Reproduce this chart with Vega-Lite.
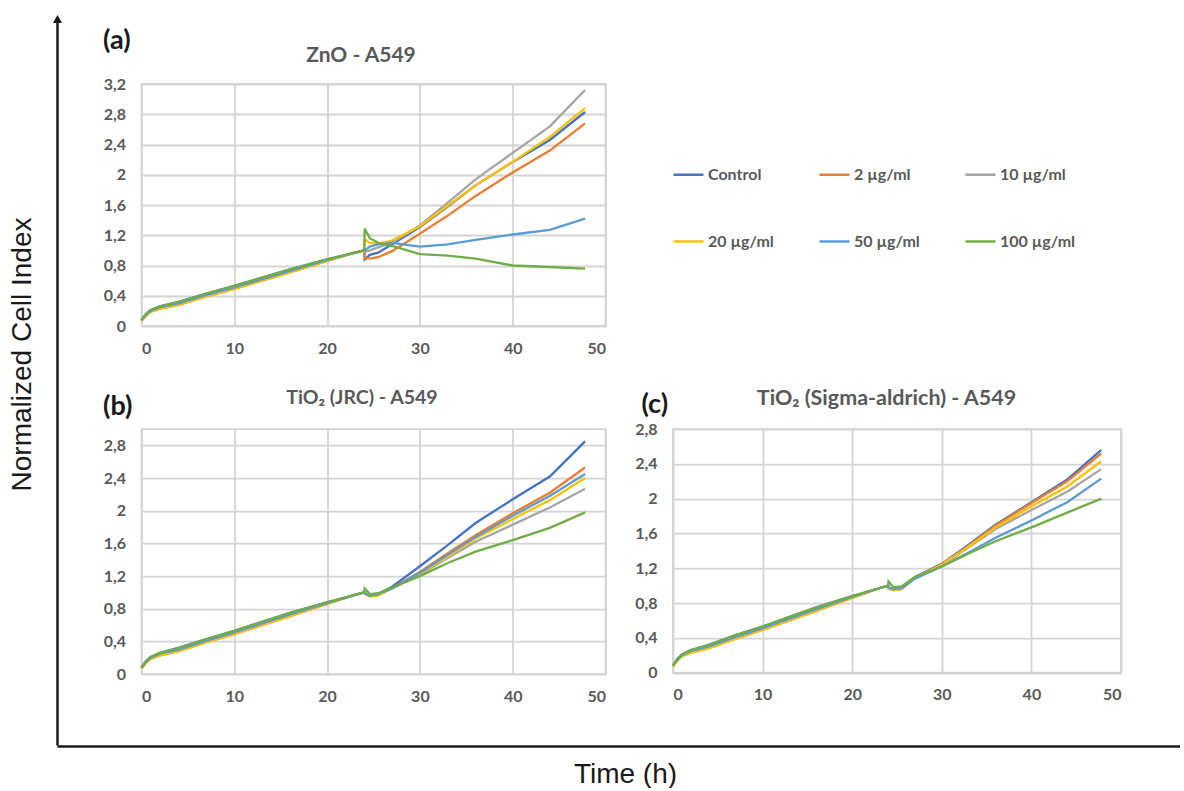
{
"$schema": "https://vega.github.io/schema/vega-lite/v6.json",
"padding": {"left": 4, "top": 15, "right": 0, "bottom": 0},
"config": {
  "view": {"stroke": "#d4d4d4", "strokeWidth": 1.8},
  "axis": {"labelFont": "Lato", "labelFontWeight": "bold", "labelFontSize": 16, "labelColor": "#595959", "ticks": false, "domain": false, "gridColor": "#d4d4d4", "gridWidth": 1.8, "titleFont": "Lato"}
},
"data": {"values": [
{"p":"a","s":"Control","t":0,"v":0.08},{"p":"a","s":"Control","t":0.5,"v":0.16},{"p":"a","s":"Control","t":1,"v":0.21},{"p":"a","s":"Control","t":2,"v":0.26},{"p":"a","s":"Control","t":4,"v":0.32},{"p":"a","s":"Control","t":7,"v":0.43},{"p":"a","s":"Control","t":10,"v":0.53},{"p":"a","s":"Control","t":13,"v":0.64},{"p":"a","s":"Control","t":16,"v":0.75},{"p":"a","s":"Control","t":20,"v":0.88},{"p":"a","s":"Control","t":23,"v":0.97},{"p":"a","s":"Control","t":24,"v":1.0},{"p":"a","s":"Control","t":24.05,"v":0.88},{"p":"a","s":"Control","t":24.6,"v":0.94},{"p":"a","s":"Control","t":25.5,"v":0.97},{"p":"a","s":"Control","t":27,"v":1.08},{"p":"a","s":"Control","t":30,"v":1.31},{"p":"a","s":"Control","t":33,"v":1.58},{"p":"a","s":"Control","t":36,"v":1.86},{"p":"a","s":"Control","t":40,"v":2.17},{"p":"a","s":"Control","t":44,"v":2.46},{"p":"a","s":"Control","t":47.8,"v":2.83},
{"p":"a","s":"2 µg/ml","t":0,"v":0.07},{"p":"a","s":"2 µg/ml","t":0.5,"v":0.14},{"p":"a","s":"2 µg/ml","t":1,"v":0.19},{"p":"a","s":"2 µg/ml","t":2,"v":0.23},{"p":"a","s":"2 µg/ml","t":4,"v":0.28},{"p":"a","s":"2 µg/ml","t":7,"v":0.39},{"p":"a","s":"2 µg/ml","t":10,"v":0.49},{"p":"a","s":"2 µg/ml","t":13,"v":0.6},{"p":"a","s":"2 µg/ml","t":16,"v":0.71},{"p":"a","s":"2 µg/ml","t":20,"v":0.86},{"p":"a","s":"2 µg/ml","t":23,"v":0.97},{"p":"a","s":"2 µg/ml","t":24,"v":1.0},{"p":"a","s":"2 µg/ml","t":24.05,"v":0.9},{"p":"a","s":"2 µg/ml","t":24.6,"v":0.89},{"p":"a","s":"2 µg/ml","t":25.5,"v":0.91},{"p":"a","s":"2 µg/ml","t":27,"v":0.99},{"p":"a","s":"2 µg/ml","t":30,"v":1.22},{"p":"a","s":"2 µg/ml","t":33,"v":1.46},{"p":"a","s":"2 µg/ml","t":36,"v":1.72},{"p":"a","s":"2 µg/ml","t":40,"v":2.03},{"p":"a","s":"2 µg/ml","t":44,"v":2.32},{"p":"a","s":"2 µg/ml","t":47.8,"v":2.68},
{"p":"a","s":"10 µg/ml","t":0,"v":0.08},{"p":"a","s":"10 µg/ml","t":0.5,"v":0.15},{"p":"a","s":"10 µg/ml","t":1,"v":0.2},{"p":"a","s":"10 µg/ml","t":2,"v":0.25},{"p":"a","s":"10 µg/ml","t":4,"v":0.3},{"p":"a","s":"10 µg/ml","t":7,"v":0.41},{"p":"a","s":"10 µg/ml","t":10,"v":0.51},{"p":"a","s":"10 µg/ml","t":13,"v":0.62},{"p":"a","s":"10 µg/ml","t":16,"v":0.73},{"p":"a","s":"10 µg/ml","t":20,"v":0.87},{"p":"a","s":"10 µg/ml","t":23,"v":0.97},{"p":"a","s":"10 µg/ml","t":24,"v":1.0},{"p":"a","s":"10 µg/ml","t":24.05,"v":0.98},{"p":"a","s":"10 µg/ml","t":24.6,"v":1.0},{"p":"a","s":"10 µg/ml","t":25.5,"v":1.04},{"p":"a","s":"10 µg/ml","t":27,"v":1.1},{"p":"a","s":"10 µg/ml","t":30,"v":1.33},{"p":"a","s":"10 µg/ml","t":33,"v":1.63},{"p":"a","s":"10 µg/ml","t":36,"v":1.94},{"p":"a","s":"10 µg/ml","t":40,"v":2.29},{"p":"a","s":"10 µg/ml","t":44,"v":2.64},{"p":"a","s":"10 µg/ml","t":47.8,"v":3.12},
{"p":"a","s":"20 µg/ml","t":0,"v":0.07},{"p":"a","s":"20 µg/ml","t":0.5,"v":0.14},{"p":"a","s":"20 µg/ml","t":1,"v":0.19},{"p":"a","s":"20 µg/ml","t":2,"v":0.23},{"p":"a","s":"20 µg/ml","t":4,"v":0.28},{"p":"a","s":"20 µg/ml","t":7,"v":0.39},{"p":"a","s":"20 µg/ml","t":10,"v":0.49},{"p":"a","s":"20 µg/ml","t":13,"v":0.6},{"p":"a","s":"20 µg/ml","t":16,"v":0.71},{"p":"a","s":"20 µg/ml","t":20,"v":0.86},{"p":"a","s":"20 µg/ml","t":23,"v":0.97},{"p":"a","s":"20 µg/ml","t":24,"v":1.0},{"p":"a","s":"20 µg/ml","t":24.05,"v":1.15},{"p":"a","s":"20 µg/ml","t":24.6,"v":1.1},{"p":"a","s":"20 µg/ml","t":25.5,"v":1.09},{"p":"a","s":"20 µg/ml","t":27,"v":1.13},{"p":"a","s":"20 µg/ml","t":30,"v":1.32},{"p":"a","s":"20 µg/ml","t":33,"v":1.59},{"p":"a","s":"20 µg/ml","t":36,"v":1.86},{"p":"a","s":"20 µg/ml","t":40,"v":2.17},{"p":"a","s":"20 µg/ml","t":44,"v":2.5},{"p":"a","s":"20 µg/ml","t":47.8,"v":2.88},
{"p":"a","s":"50 µg/ml","t":0,"v":0.08},{"p":"a","s":"50 µg/ml","t":0.5,"v":0.15},{"p":"a","s":"50 µg/ml","t":1,"v":0.2},{"p":"a","s":"50 µg/ml","t":2,"v":0.25},{"p":"a","s":"50 µg/ml","t":4,"v":0.3},{"p":"a","s":"50 µg/ml","t":7,"v":0.41},{"p":"a","s":"50 µg/ml","t":10,"v":0.51},{"p":"a","s":"50 µg/ml","t":13,"v":0.62},{"p":"a","s":"50 µg/ml","t":16,"v":0.73},{"p":"a","s":"50 µg/ml","t":20,"v":0.87},{"p":"a","s":"50 µg/ml","t":23,"v":0.97},{"p":"a","s":"50 µg/ml","t":24,"v":1.0},{"p":"a","s":"50 µg/ml","t":24.05,"v":1.0},{"p":"a","s":"50 µg/ml","t":24.6,"v":1.05},{"p":"a","s":"50 µg/ml","t":25.5,"v":1.08},{"p":"a","s":"50 µg/ml","t":27,"v":1.1},{"p":"a","s":"50 µg/ml","t":30,"v":1.05},{"p":"a","s":"50 µg/ml","t":33,"v":1.08},{"p":"a","s":"50 µg/ml","t":36,"v":1.14},{"p":"a","s":"50 µg/ml","t":40,"v":1.21},{"p":"a","s":"50 µg/ml","t":44,"v":1.27},{"p":"a","s":"50 µg/ml","t":47.8,"v":1.42},
{"p":"a","s":"100 µg/ml","t":0,"v":0.08},{"p":"a","s":"100 µg/ml","t":0.5,"v":0.16},{"p":"a","s":"100 µg/ml","t":1,"v":0.21},{"p":"a","s":"100 µg/ml","t":2,"v":0.26},{"p":"a","s":"100 µg/ml","t":4,"v":0.32},{"p":"a","s":"100 µg/ml","t":7,"v":0.43},{"p":"a","s":"100 µg/ml","t":10,"v":0.53},{"p":"a","s":"100 µg/ml","t":13,"v":0.64},{"p":"a","s":"100 µg/ml","t":16,"v":0.75},{"p":"a","s":"100 µg/ml","t":20,"v":0.88},{"p":"a","s":"100 µg/ml","t":23,"v":0.97},{"p":"a","s":"100 µg/ml","t":24,"v":1.0},{"p":"a","s":"100 µg/ml","t":24.05,"v":1.29},{"p":"a","s":"100 µg/ml","t":24.6,"v":1.16},{"p":"a","s":"100 µg/ml","t":25.5,"v":1.1},{"p":"a","s":"100 µg/ml","t":27,"v":1.06},{"p":"a","s":"100 µg/ml","t":30,"v":0.95},{"p":"a","s":"100 µg/ml","t":33,"v":0.93},{"p":"a","s":"100 µg/ml","t":36,"v":0.89},{"p":"a","s":"100 µg/ml","t":40,"v":0.8},{"p":"a","s":"100 µg/ml","t":44,"v":0.78},{"p":"a","s":"100 µg/ml","t":47.8,"v":0.76},
{"p":"b","s":"Control","t":0,"v":0.08},{"p":"b","s":"Control","t":0.5,"v":0.16},{"p":"b","s":"Control","t":1,"v":0.21},{"p":"b","s":"Control","t":2,"v":0.26},{"p":"b","s":"Control","t":4,"v":0.32},{"p":"b","s":"Control","t":7,"v":0.43},{"p":"b","s":"Control","t":10,"v":0.53},{"p":"b","s":"Control","t":13,"v":0.64},{"p":"b","s":"Control","t":16,"v":0.75},{"p":"b","s":"Control","t":20,"v":0.88},{"p":"b","s":"Control","t":23,"v":0.97},{"p":"b","s":"Control","t":24,"v":1.0},{"p":"b","s":"Control","t":24.05,"v":0.99},{"p":"b","s":"Control","t":24.6,"v":0.97},{"p":"b","s":"Control","t":25.5,"v":0.98},{"p":"b","s":"Control","t":27,"v":1.07},{"p":"b","s":"Control","t":30,"v":1.32},{"p":"b","s":"Control","t":33,"v":1.58},{"p":"b","s":"Control","t":36,"v":1.85},{"p":"b","s":"Control","t":40,"v":2.14},{"p":"b","s":"Control","t":44,"v":2.42},{"p":"b","s":"Control","t":47.8,"v":2.85},
{"p":"b","s":"2 µg/ml","t":0,"v":0.07},{"p":"b","s":"2 µg/ml","t":0.5,"v":0.14},{"p":"b","s":"2 µg/ml","t":1,"v":0.19},{"p":"b","s":"2 µg/ml","t":2,"v":0.23},{"p":"b","s":"2 µg/ml","t":4,"v":0.28},{"p":"b","s":"2 µg/ml","t":7,"v":0.39},{"p":"b","s":"2 µg/ml","t":10,"v":0.49},{"p":"b","s":"2 µg/ml","t":13,"v":0.6},{"p":"b","s":"2 µg/ml","t":16,"v":0.71},{"p":"b","s":"2 µg/ml","t":20,"v":0.86},{"p":"b","s":"2 µg/ml","t":23,"v":0.97},{"p":"b","s":"2 µg/ml","t":24,"v":1.0},{"p":"b","s":"2 µg/ml","t":24.05,"v":0.99},{"p":"b","s":"2 µg/ml","t":24.6,"v":0.96},{"p":"b","s":"2 µg/ml","t":25.5,"v":0.97},{"p":"b","s":"2 µg/ml","t":27,"v":1.05},{"p":"b","s":"2 µg/ml","t":30,"v":1.25},{"p":"b","s":"2 µg/ml","t":33,"v":1.48},{"p":"b","s":"2 µg/ml","t":36,"v":1.7},{"p":"b","s":"2 µg/ml","t":40,"v":1.97},{"p":"b","s":"2 µg/ml","t":44,"v":2.22},{"p":"b","s":"2 µg/ml","t":47.8,"v":2.53},
{"p":"b","s":"10 µg/ml","t":0,"v":0.08},{"p":"b","s":"10 µg/ml","t":0.5,"v":0.15},{"p":"b","s":"10 µg/ml","t":1,"v":0.2},{"p":"b","s":"10 µg/ml","t":2,"v":0.25},{"p":"b","s":"10 µg/ml","t":4,"v":0.3},{"p":"b","s":"10 µg/ml","t":7,"v":0.41},{"p":"b","s":"10 µg/ml","t":10,"v":0.51},{"p":"b","s":"10 µg/ml","t":13,"v":0.62},{"p":"b","s":"10 µg/ml","t":16,"v":0.73},{"p":"b","s":"10 µg/ml","t":20,"v":0.87},{"p":"b","s":"10 µg/ml","t":23,"v":0.97},{"p":"b","s":"10 µg/ml","t":24,"v":1.0},{"p":"b","s":"10 µg/ml","t":24.05,"v":0.99},{"p":"b","s":"10 µg/ml","t":24.6,"v":0.96},{"p":"b","s":"10 µg/ml","t":25.5,"v":0.97},{"p":"b","s":"10 µg/ml","t":27,"v":1.05},{"p":"b","s":"10 µg/ml","t":30,"v":1.22},{"p":"b","s":"10 µg/ml","t":33,"v":1.42},{"p":"b","s":"10 µg/ml","t":36,"v":1.62},{"p":"b","s":"10 µg/ml","t":40,"v":1.83},{"p":"b","s":"10 µg/ml","t":44,"v":2.04},{"p":"b","s":"10 µg/ml","t":47.8,"v":2.27},
{"p":"b","s":"20 µg/ml","t":0,"v":0.07},{"p":"b","s":"20 µg/ml","t":0.5,"v":0.14},{"p":"b","s":"20 µg/ml","t":1,"v":0.19},{"p":"b","s":"20 µg/ml","t":2,"v":0.23},{"p":"b","s":"20 µg/ml","t":4,"v":0.28},{"p":"b","s":"20 µg/ml","t":7,"v":0.39},{"p":"b","s":"20 µg/ml","t":10,"v":0.49},{"p":"b","s":"20 µg/ml","t":13,"v":0.6},{"p":"b","s":"20 µg/ml","t":16,"v":0.71},{"p":"b","s":"20 µg/ml","t":20,"v":0.86},{"p":"b","s":"20 µg/ml","t":23,"v":0.97},{"p":"b","s":"20 µg/ml","t":24,"v":1.0},{"p":"b","s":"20 µg/ml","t":24.05,"v":0.98},{"p":"b","s":"20 µg/ml","t":24.6,"v":0.95},{"p":"b","s":"20 µg/ml","t":25.5,"v":0.96},{"p":"b","s":"20 µg/ml","t":27,"v":1.05},{"p":"b","s":"20 µg/ml","t":30,"v":1.23},{"p":"b","s":"20 µg/ml","t":33,"v":1.44},{"p":"b","s":"20 µg/ml","t":36,"v":1.66},{"p":"b","s":"20 µg/ml","t":40,"v":1.9},{"p":"b","s":"20 µg/ml","t":44,"v":2.13},{"p":"b","s":"20 µg/ml","t":47.8,"v":2.4},
{"p":"b","s":"50 µg/ml","t":0,"v":0.08},{"p":"b","s":"50 µg/ml","t":0.5,"v":0.15},{"p":"b","s":"50 µg/ml","t":1,"v":0.2},{"p":"b","s":"50 µg/ml","t":2,"v":0.25},{"p":"b","s":"50 µg/ml","t":4,"v":0.3},{"p":"b","s":"50 µg/ml","t":7,"v":0.41},{"p":"b","s":"50 µg/ml","t":10,"v":0.51},{"p":"b","s":"50 µg/ml","t":13,"v":0.62},{"p":"b","s":"50 µg/ml","t":16,"v":0.73},{"p":"b","s":"50 µg/ml","t":20,"v":0.87},{"p":"b","s":"50 µg/ml","t":23,"v":0.97},{"p":"b","s":"50 µg/ml","t":24,"v":1.0},{"p":"b","s":"50 µg/ml","t":24.05,"v":0.99},{"p":"b","s":"50 µg/ml","t":24.6,"v":0.96},{"p":"b","s":"50 µg/ml","t":25.5,"v":0.98},{"p":"b","s":"50 µg/ml","t":27,"v":1.05},{"p":"b","s":"50 µg/ml","t":30,"v":1.24},{"p":"b","s":"50 µg/ml","t":33,"v":1.46},{"p":"b","s":"50 µg/ml","t":36,"v":1.68},{"p":"b","s":"50 µg/ml","t":40,"v":1.94},{"p":"b","s":"50 µg/ml","t":44,"v":2.18},{"p":"b","s":"50 µg/ml","t":47.8,"v":2.45},
{"p":"b","s":"100 µg/ml","t":0,"v":0.08},{"p":"b","s":"100 µg/ml","t":0.5,"v":0.16},{"p":"b","s":"100 µg/ml","t":1,"v":0.21},{"p":"b","s":"100 µg/ml","t":2,"v":0.26},{"p":"b","s":"100 µg/ml","t":4,"v":0.32},{"p":"b","s":"100 µg/ml","t":7,"v":0.43},{"p":"b","s":"100 µg/ml","t":10,"v":0.53},{"p":"b","s":"100 µg/ml","t":13,"v":0.64},{"p":"b","s":"100 µg/ml","t":16,"v":0.75},{"p":"b","s":"100 µg/ml","t":20,"v":0.88},{"p":"b","s":"100 µg/ml","t":23,"v":0.97},{"p":"b","s":"100 µg/ml","t":24,"v":1.0},{"p":"b","s":"100 µg/ml","t":24.05,"v":1.05},{"p":"b","s":"100 µg/ml","t":24.6,"v":0.98},{"p":"b","s":"100 µg/ml","t":25.5,"v":0.99},{"p":"b","s":"100 µg/ml","t":27,"v":1.06},{"p":"b","s":"100 µg/ml","t":30,"v":1.2},{"p":"b","s":"100 µg/ml","t":33,"v":1.36},{"p":"b","s":"100 µg/ml","t":36,"v":1.5},{"p":"b","s":"100 µg/ml","t":40,"v":1.64},{"p":"b","s":"100 µg/ml","t":44,"v":1.79},{"p":"b","s":"100 µg/ml","t":47.8,"v":1.98},
{"p":"c","s":"Control","t":0,"v":0.08},{"p":"c","s":"Control","t":0.5,"v":0.16},{"p":"c","s":"Control","t":1,"v":0.21},{"p":"c","s":"Control","t":2,"v":0.26},{"p":"c","s":"Control","t":4,"v":0.32},{"p":"c","s":"Control","t":7,"v":0.43},{"p":"c","s":"Control","t":10,"v":0.53},{"p":"c","s":"Control","t":13,"v":0.64},{"p":"c","s":"Control","t":16,"v":0.75},{"p":"c","s":"Control","t":20,"v":0.88},{"p":"c","s":"Control","t":23,"v":0.97},{"p":"c","s":"Control","t":24,"v":1.0},{"p":"c","s":"Control","t":24.05,"v":0.97},{"p":"c","s":"Control","t":24.6,"v":0.96},{"p":"c","s":"Control","t":25.5,"v":0.97},{"p":"c","s":"Control","t":27,"v":1.1},{"p":"c","s":"Control","t":30,"v":1.25},{"p":"c","s":"Control","t":33,"v":1.47},{"p":"c","s":"Control","t":36,"v":1.7},{"p":"c","s":"Control","t":40,"v":1.96},{"p":"c","s":"Control","t":44,"v":2.22},{"p":"c","s":"Control","t":47.8,"v":2.56},
{"p":"c","s":"2 µg/ml","t":0,"v":0.07},{"p":"c","s":"2 µg/ml","t":0.5,"v":0.14},{"p":"c","s":"2 µg/ml","t":1,"v":0.19},{"p":"c","s":"2 µg/ml","t":2,"v":0.23},{"p":"c","s":"2 µg/ml","t":4,"v":0.28},{"p":"c","s":"2 µg/ml","t":7,"v":0.39},{"p":"c","s":"2 µg/ml","t":10,"v":0.49},{"p":"c","s":"2 µg/ml","t":13,"v":0.6},{"p":"c","s":"2 µg/ml","t":16,"v":0.71},{"p":"c","s":"2 µg/ml","t":20,"v":0.86},{"p":"c","s":"2 µg/ml","t":23,"v":0.97},{"p":"c","s":"2 µg/ml","t":24,"v":1.0},{"p":"c","s":"2 µg/ml","t":24.05,"v":0.98},{"p":"c","s":"2 µg/ml","t":24.6,"v":0.95},{"p":"c","s":"2 µg/ml","t":25.5,"v":0.96},{"p":"c","s":"2 µg/ml","t":27,"v":1.09},{"p":"c","s":"2 µg/ml","t":30,"v":1.24},{"p":"c","s":"2 µg/ml","t":33,"v":1.46},{"p":"c","s":"2 µg/ml","t":36,"v":1.69},{"p":"c","s":"2 µg/ml","t":40,"v":1.95},{"p":"c","s":"2 µg/ml","t":44,"v":2.2},{"p":"c","s":"2 µg/ml","t":47.8,"v":2.52},
{"p":"c","s":"10 µg/ml","t":0,"v":0.08},{"p":"c","s":"10 µg/ml","t":0.5,"v":0.15},{"p":"c","s":"10 µg/ml","t":1,"v":0.2},{"p":"c","s":"10 µg/ml","t":2,"v":0.25},{"p":"c","s":"10 µg/ml","t":4,"v":0.3},{"p":"c","s":"10 µg/ml","t":7,"v":0.41},{"p":"c","s":"10 µg/ml","t":10,"v":0.51},{"p":"c","s":"10 µg/ml","t":13,"v":0.62},{"p":"c","s":"10 µg/ml","t":16,"v":0.73},{"p":"c","s":"10 µg/ml","t":20,"v":0.87},{"p":"c","s":"10 µg/ml","t":23,"v":0.97},{"p":"c","s":"10 µg/ml","t":24,"v":1.0},{"p":"c","s":"10 µg/ml","t":24.05,"v":0.97},{"p":"c","s":"10 µg/ml","t":24.6,"v":0.95},{"p":"c","s":"10 µg/ml","t":25.5,"v":0.96},{"p":"c","s":"10 µg/ml","t":27,"v":1.09},{"p":"c","s":"10 µg/ml","t":30,"v":1.23},{"p":"c","s":"10 µg/ml","t":33,"v":1.44},{"p":"c","s":"10 µg/ml","t":36,"v":1.65},{"p":"c","s":"10 µg/ml","t":40,"v":1.87},{"p":"c","s":"10 µg/ml","t":44,"v":2.08},{"p":"c","s":"10 µg/ml","t":47.8,"v":2.34},
{"p":"c","s":"20 µg/ml","t":0,"v":0.07},{"p":"c","s":"20 µg/ml","t":0.5,"v":0.14},{"p":"c","s":"20 µg/ml","t":1,"v":0.19},{"p":"c","s":"20 µg/ml","t":2,"v":0.23},{"p":"c","s":"20 µg/ml","t":4,"v":0.28},{"p":"c","s":"20 µg/ml","t":7,"v":0.39},{"p":"c","s":"20 µg/ml","t":10,"v":0.49},{"p":"c","s":"20 µg/ml","t":13,"v":0.6},{"p":"c","s":"20 µg/ml","t":16,"v":0.71},{"p":"c","s":"20 µg/ml","t":20,"v":0.86},{"p":"c","s":"20 µg/ml","t":23,"v":0.97},{"p":"c","s":"20 µg/ml","t":24,"v":1.0},{"p":"c","s":"20 µg/ml","t":24.05,"v":0.96},{"p":"c","s":"20 µg/ml","t":24.6,"v":0.95},{"p":"c","s":"20 µg/ml","t":25.5,"v":0.96},{"p":"c","s":"20 µg/ml","t":27,"v":1.09},{"p":"c","s":"20 µg/ml","t":30,"v":1.24},{"p":"c","s":"20 µg/ml","t":33,"v":1.45},{"p":"c","s":"20 µg/ml","t":36,"v":1.67},{"p":"c","s":"20 µg/ml","t":40,"v":1.91},{"p":"c","s":"20 µg/ml","t":44,"v":2.14},{"p":"c","s":"20 µg/ml","t":47.8,"v":2.43},
{"p":"c","s":"50 µg/ml","t":0,"v":0.08},{"p":"c","s":"50 µg/ml","t":0.5,"v":0.15},{"p":"c","s":"50 µg/ml","t":1,"v":0.2},{"p":"c","s":"50 µg/ml","t":2,"v":0.25},{"p":"c","s":"50 µg/ml","t":4,"v":0.3},{"p":"c","s":"50 µg/ml","t":7,"v":0.41},{"p":"c","s":"50 µg/ml","t":10,"v":0.51},{"p":"c","s":"50 µg/ml","t":13,"v":0.62},{"p":"c","s":"50 µg/ml","t":16,"v":0.73},{"p":"c","s":"50 µg/ml","t":20,"v":0.87},{"p":"c","s":"50 µg/ml","t":23,"v":0.97},{"p":"c","s":"50 µg/ml","t":24,"v":1.0},{"p":"c","s":"50 µg/ml","t":24.05,"v":0.98},{"p":"c","s":"50 µg/ml","t":24.6,"v":0.96},{"p":"c","s":"50 µg/ml","t":25.5,"v":0.97},{"p":"c","s":"50 µg/ml","t":27,"v":1.08},{"p":"c","s":"50 µg/ml","t":30,"v":1.22},{"p":"c","s":"50 µg/ml","t":33,"v":1.38},{"p":"c","s":"50 µg/ml","t":36,"v":1.55},{"p":"c","s":"50 µg/ml","t":40,"v":1.75},{"p":"c","s":"50 µg/ml","t":44,"v":1.96},{"p":"c","s":"50 µg/ml","t":47.8,"v":2.23},
{"p":"c","s":"100 µg/ml","t":0,"v":0.08},{"p":"c","s":"100 µg/ml","t":0.5,"v":0.16},{"p":"c","s":"100 µg/ml","t":1,"v":0.21},{"p":"c","s":"100 µg/ml","t":2,"v":0.26},{"p":"c","s":"100 µg/ml","t":4,"v":0.32},{"p":"c","s":"100 µg/ml","t":7,"v":0.43},{"p":"c","s":"100 µg/ml","t":10,"v":0.53},{"p":"c","s":"100 µg/ml","t":13,"v":0.64},{"p":"c","s":"100 µg/ml","t":16,"v":0.75},{"p":"c","s":"100 µg/ml","t":20,"v":0.88},{"p":"c","s":"100 µg/ml","t":23,"v":0.97},{"p":"c","s":"100 µg/ml","t":24,"v":1.0},{"p":"c","s":"100 µg/ml","t":24.05,"v":1.05},{"p":"c","s":"100 µg/ml","t":24.6,"v":0.98},{"p":"c","s":"100 µg/ml","t":25.5,"v":0.99},{"p":"c","s":"100 µg/ml","t":27,"v":1.1},{"p":"c","s":"100 µg/ml","t":30,"v":1.22},{"p":"c","s":"100 µg/ml","t":33,"v":1.37},{"p":"c","s":"100 µg/ml","t":36,"v":1.51},{"p":"c","s":"100 µg/ml","t":40,"v":1.67},{"p":"c","s":"100 µg/ml","t":44,"v":1.84},{"p":"c","s":"100 µg/ml","t":47.8,"v":2.0}
]},
"spacing": 0,
"resolve": {"scale": {"color": "independent"}, "legend": {"color": "independent"}},
"vconcat": [
  {
    "spacing": 39.5,
    "resolve": {"scale": {"color": "independent"}, "legend": {"color": "independent"}},
    "hconcat": [
      {
        "width": 1, "height": 726,
        "data": {"values": [{"k": 1}]},
        "view": {"stroke": null},
        "mark": {"type": "point", "shape": "triangle-up", "filled": true, "color": "#1a1a1a", "size": 81, "opacity": 1},
        "encoding": {
          "y": {"field": "k", "type": "quantitative", "scale": {"domain": [0, 1], "nice": false},
            "axis": {"title": "Normalized Cell Index", "titleFont": "Liberation Sans", "titleFontSize": 28, "titleFontWeight": "normal", "titleColor": "#1a1a1a", "titlePadding": 21, "titleY": 335, "domain": true, "domainColor": "#1a1a1a", "domainWidth": 2.5, "labels": false, "grid": false, "ticks": false}}
        }
      },
      {
        "spacing": 5,
        "resolve": {"scale": {"color": "independent"}, "legend": {"color": "independent"}},
        "vconcat": [
          {
            "width": 1, "height": 1,
            "data": {"values": [{"k": 1}]},
            "view": {"stroke": null},
            "mark": {"type": "point", "opacity": 0, "size": 1},
            "encoding": {}
          },
          {
            "spacing": 29.1,
            "resolve": {"scale": {"color": "independent"}, "legend": {"color": "independent"}},
            "vconcat": [
              {
                "width": 464, "height": 242,
                "transform": [{"filter": "datum.p === 'a'"}],
                "mark": {"type": "line", "strokeWidth": 2.3},
                "encoding": {
                  "x": {"field": "t", "type": "quantitative", "scale": {"domain": [0, 50], "nice": false},
                    "axis": {"values": [0, 10, 20, 30, 40, 50], "labelPadding": 14, "title": "ZnO - A549", "titleX": 219, "titleY": -271, "titleAlign": "center", "titleBaseline": "middle", "titleFontSize": 21, "titleFontWeight": "bold", "titleColor": "#595959"}},
                  "y": {"field": "v", "type": "quantitative", "scale": {"domain": [0, 3.2], "nice": false},
                    "axis": {"values": [0, 0.4, 0.8, 1.2, 1.6, 2, 2.4, 2.8, 3.2], "labelExpr": "replace(format(datum.value, '.1~f'), '.', ',')", "labelPadding": 16, "title": "(a)", "titleAngle": 0, "titleX": -39, "titleY": -44, "titleAlign": "left", "titleBaseline": "middle", "titleFontSize": 27, "titleFontWeight": "bold", "titleColor": "#1a1a1a"}},
                  "color": {"field": "s", "type": "nominal",
                    "scale": {"domain": ["Control", "2 µg/ml", "10 µg/ml", "20 µg/ml", "50 µg/ml", "100 µg/ml"], "range": ["#4472C4", "#ED7D31", "#A5A5A5", "#FFC000", "#5B9BD5", "#70AD47"]},
                    "legend": {"title": null, "orient": "none", "legendX": 530.5, "legendY": 74, "direction": "horizontal", "columns": 3, "symbolType": "stroke", "symbolSize": 900, "symbolStrokeWidth": 2.5, "labelFont": "Lato", "labelFontWeight": "bold", "labelFontSize": 16, "labelColor": "#595959", "labelOffset": 3, "columnPadding": 40, "rowPadding": 42, "padding": 0}}
                }
              },
              {
                "spacing": 26.5,
                "columns": 2,
                "align": "none",
                "resolve": {"scale": {"color": "independent"}, "legend": {"color": "independent"}},
                "concat": [
                  {
                    "width": 464, "height": 245,
                    "transform": [{"filter": "datum.p === 'b'"}],
                    "mark": {"type": "line", "strokeWidth": 2.3},
                    "encoding": {
                      "x": {"field": "t", "type": "quantitative", "scale": {"domain": [0, 50], "nice": false},
                        "axis": {"values": [0, 10, 20, 30, 40, 50], "labelPadding": 14, "title": "TiO₂ (JRC) - A549", "titleX": 220, "titleY": -277, "titleAlign": "center", "titleBaseline": "middle", "titleFontSize": 19.5, "titleFontWeight": "bold", "titleColor": "#595959"}},
                      "y": {"field": "v", "type": "quantitative", "scale": {"domain": [0, 3], "nice": false},
                        "axis": {"values": [0, 0.4, 0.8, 1.2, 1.6, 2, 2.4, 2.8], "labelExpr": "replace(format(datum.value, '.1~f'), '.', ',')", "labelPadding": 16, "title": "(b)", "titleAngle": 0, "titleX": -39, "titleY": -23, "titleAlign": "left", "titleBaseline": "middle", "titleFontSize": 27, "titleFontWeight": "bold", "titleColor": "#1a1a1a"}},
                      "color": {"field": "s", "type": "nominal",
                        "scale": {"domain": ["Control", "2 µg/ml", "10 µg/ml", "20 µg/ml", "50 µg/ml", "100 µg/ml"], "range": ["#4472C4", "#ED7D31", "#A5A5A5", "#FFC000", "#5B9BD5", "#70AD47"]},
                        "legend": null}
                    }
                  },
                  {
                    "width": 448, "height": 243.5,
                    "transform": [{"filter": "datum.p === 'c'"}],
                    "mark": {"type": "line", "strokeWidth": 2.3},
                    "encoding": {
                      "x": {"field": "t", "type": "quantitative", "scale": {"domain": [0, 50], "nice": false},
                        "axis": {"values": [0, 10, 20, 30, 40, 50], "labelPadding": 14, "title": "TiO₂ (Sigma-aldrich) - A549", "titleX": 213, "titleY": -274.5, "titleAlign": "center", "titleBaseline": "middle", "titleFontSize": 21.5, "titleFontWeight": "bold", "titleColor": "#595959"}},
                      "y": {"field": "v", "type": "quantitative", "scale": {"domain": [0, 2.8], "nice": false},
                        "axis": {"values": [0, 0.4, 0.8, 1.2, 1.6, 2, 2.4, 2.8], "labelExpr": "replace(format(datum.value, '.1~f'), '.', ',')", "labelPadding": 16, "title": "(c)", "titleAngle": 0, "titleX": -32, "titleY": -25, "titleAlign": "left", "titleBaseline": "middle", "titleFontSize": 27, "titleFontWeight": "bold", "titleColor": "#1a1a1a"}},
                      "color": {"field": "s", "type": "nominal",
                        "scale": {"domain": ["Control", "2 µg/ml", "10 µg/ml", "20 µg/ml", "50 µg/ml", "100 µg/ml"], "range": ["#4472C4", "#ED7D31", "#A5A5A5", "#FFC000", "#5B9BD5", "#70AD47"]},
                        "legend": null}
                    }
                  }
                ]
              }
            ]
          }
        ]
      }
    ]
  },
  {
    "width": 1123, "height": 1,
    "data": {"values": [{"k": 0}]},
    "view": {"stroke": null},
    "mark": {"type": "point", "opacity": 0, "size": 1},
    "encoding": {
      "x": {"field": "k", "type": "quantitative", "scale": {"domain": [0, 1], "nice": false},
        "axis": {"title": "Time (h)", "titleFont": "Liberation Sans", "titleFontSize": 28, "titleFontWeight": "normal", "titleColor": "#1a1a1a", "titlePadding": 14, "titleX": 568, "domain": true, "domainColor": "#1a1a1a", "domainWidth": 2.5, "labels": false, "ticks": false, "grid": false}},
      "y": {"field": "k", "type": "quantitative", "scale": {"domain": [0, 1], "nice": false},
        "axis": {"values": [0], "labels": true, "labelColor": "transparent", "labelPadding": 43, "labelBaseline": "top", "domain": false, "ticks": false, "grid": false, "title": null}}
    }
  }
]
}
